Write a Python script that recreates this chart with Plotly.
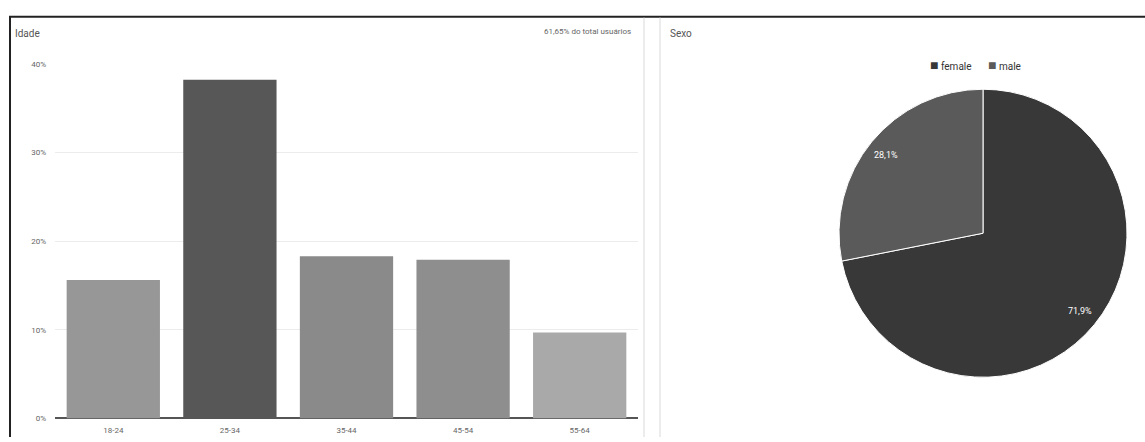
import math
import plotly.graph_objects as go

# ---- data ----
age_groups = ["18-24", "25-34", "35-44", "45-54", "55-64"]
age_share = [15.6, 38.2, 18.3, 17.9, 9.7]
age_colors = ["#979797", "#575757", "#8a8a8a", "#8e8e8e", "#a9a9a9"]
y_ticks = [0, 10, 20, 30, 40]
y_tick_labels = ["0%", "10%", "20%", "30%", "40%"]

sex_labels = ["female", "male"]
sex_share = [71.9, 28.1]
sex_colors = ["#383838", "#5a5a5a"]

W, H = 1145, 442

def px(x):
    return x / W

def py(y):
    return 1 - y / H

# pie geometry (layout)
PIE_CX, PIE_CY, PIE_R = 983, 234, 143
pie_dom_size = 294

fig = go.Figure()

fig.add_trace(go.Bar(
    x=age_groups, y=age_share,
    marker=dict(color=age_colors, line=dict(width=0)),
    width=0.8, showlegend=False, hoverinfo="x+y",
))

fig.add_trace(go.Pie(
    labels=sex_labels, values=sex_share,
    marker=dict(colors=sex_colors, line=dict(color="#ffffff", width=1)),
    sort=False, direction="clockwise", rotation=0,
    textinfo="none",
    domain=dict(x=[px(PIE_CX - pie_dom_size / 2), px(PIE_CX + pie_dom_size / 2)],
                y=[py(PIE_CY + pie_dom_size / 2), py(PIE_CY - pie_dom_size / 2)]),
    showlegend=False,
))

# slice labels placed radially from the data
total = sum(sex_share)
start = 0.0
for val in sex_share:
    mid = start + val / total * 360 / 2
    start += val / total * 360
    ang = math.radians(mid)
    lx = PIE_CX + 0.875 * PIE_R * math.sin(ang)
    ly = PIE_CY - 0.875 * PIE_R * math.cos(ang)
    fig.add_annotation(
        text=f"{val / total * 100:.1f}%".replace(".", ","),
        x=px(lx), y=py(ly), xref="paper", yref="paper",
        xanchor="center", yanchor="middle", showarrow=False,
        font=dict(size=9, color="#ffffff"),
    )

# legend as text entries
legend_x = [930, 988]
for lab, c, lx in zip(sex_labels, sex_colors, legend_x):
    fig.add_annotation(
        text=f"<span style='color:{c};font-size:14px'>■</span> {lab}",
        x=px(lx - 2), y=py(62), xref="paper", yref="paper",
        xanchor="left", yanchor="middle", showarrow=False,
        font=dict(size=10, color="#333333"),
    )

fig.update_layout(
    width=W, height=H,
    margin=dict(l=0, r=0, t=0, b=0),
    paper_bgcolor="#ffffff", plot_bgcolor="#ffffff",
    separators=",.",
    font=dict(family="Roboto, Arial, sans-serif", color="#555555", size=9),
    xaxis=dict(
        domain=[px(55), px(638)],
        tickfont=dict(size=8, color="#666666"),
        showgrid=False, showline=False, ticks="",
        anchor="y", ticklabelstandoff=6,
    ),
    yaxis=dict(
        domain=[py(423), py(61)],
        range=[0, 40],
        tickvals=y_ticks, ticktext=y_tick_labels,
        tickfont=dict(size=8, color="#666666"),
        gridcolor="#ececec", gridwidth=1,
        zeroline=True, zerolinecolor="#555555", zerolinewidth=1.5,
        showline=False, ticks="", ticklabelstandoff=8,
    ),
    showlegend=False,
    bargap=0.2,
)

# titles
fig.add_annotation(text="Idade", x=px(13), y=py(30), xref="paper", yref="paper",
                   xanchor="left", yanchor="middle", showarrow=False,
                   font=dict(size=10, color="#555555"))
fig.add_annotation(text="Sexo", x=px(668), y=py(30), xref="paper", yref="paper",
                   xanchor="left", yanchor="middle", showarrow=False,
                   font=dict(size=10, color="#555555"))
fig.add_annotation(text="61,65% do total usuários", x=px(633), y=py(28),
                   xref="paper", yref="paper", xanchor="right", yanchor="middle",
                   showarrow=False, font=dict(size=8, color="#666666"))

# frame and dividers
fig.add_shape(type="line", xref="paper", yref="paper",
              x0=px(9), x1=1, y0=py(13), y1=py(13),
              line=dict(color="#222222", width=2))
fig.add_shape(type="line", xref="paper", yref="paper",
              x0=px(10), x1=px(10), y0=py(13), y1=0,
              line=dict(color="#222222", width=2))
fig.add_shape(type="line", xref="paper", yref="paper",
              x0=px(644), x1=px(644), y0=py(14), y1=0,
              line=dict(color="#e6e6e6", width=1.5))
fig.add_shape(type="line", xref="paper", yref="paper",
              x0=px(660), x1=px(660), y0=py(14), y1=0,
              line=dict(color="#e6e6e6", width=1.5))

fig.write_html("out.html")
